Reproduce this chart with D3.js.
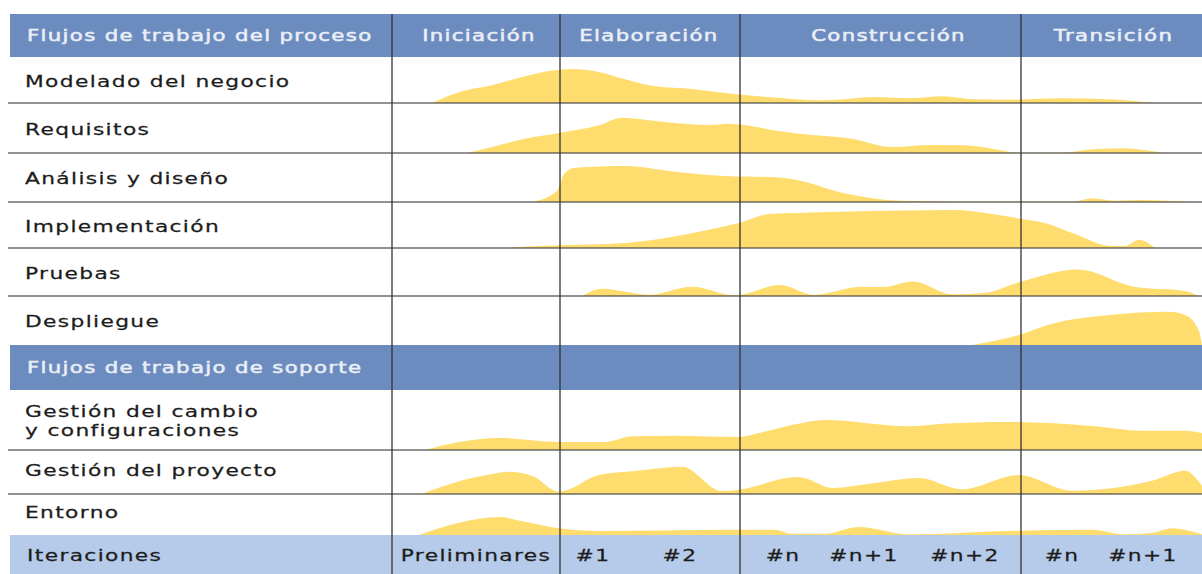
<!DOCTYPE html>
<html>
<head>
<meta charset="utf-8">
<script src="https://cdn.jsdelivr.net/npm/d3@7"></script>
<style>
  body { margin: 0; background: #fff; }
  text { font-family: "DejaVu Sans", Verdana, sans-serif; font-size: 16px; letter-spacing: 1px; }
</style>
</head>
<body>
<svg id="chart"></svg>
<script>
// ---- data ----
const phases = ["Iniciación", "Elaboración", "Construcción", "Transición"];
const phaseEdges = [0, 168, 348, 629, 810];          // timeline units
const processFlows = ["Modelado del negocio", "Requisitos", "Análisis y diseño",
                      "Implementación", "Pruebas", "Despliegue"];
const supportFlows = [["Gestión del cambio", "y configuraciones"], ["Gestión del proyecto"], ["Entorno"]];
const iterations = ["Preliminares", "#1", "#2", "#n", "#n+1", "#n+2", "#n", "#n+1"];
const iterationPos = [84, 201, 288, 391, 472, 573, 670, 751];

// effort curves: [timeline, effort]
const modelado = [[40,0],[70,11.7],[100,17.7],[133,26.7],[163,32.7],[180,34],[207,31],[233,23.7],[263,16.7],
  [300,14],[333,10],[367,6.7],[400,4],[433,2.7],[483,6],[517,4.7],[550,6.7],[583,3.7],[617,3.3],[667,4.7],
  [717,3.7],[750,1.3],[767,0]];
const requisitos = [[75,0],[100,6],[133,14.3],[167,20],[207,27.7],[230,35.3],[253,33.3],[283,30],[317,28],
  [337,29.3],[357,27.3],[387,22],[405,19.6],[460,14.3],[500,6],[540,8],[573,7.7],[600,4.3],[627,0.3],
  [673,0.5],[700,3.7],[733,4.7],[750,3.3],[773,0]];
const analisis = [[140,0],[165,11],[172,28],[183,34.3],[233,36],[283,30.3],[333,26],[383,24.7],[405,22],
  [450,9.3],[510,1.3],[567,0.6],[683,0.6],[700,3.7],[723,1.3],[750,2],[800,0]];
const implementacion = [[113,0],[140,1.7],[167,2.7],[233,5],[267,9],[317,18.3],[347,25],[377,34],[405,35],
  [467,36.7],[560,38],[600,34],[630,29],[653,25],[683,14],[717,2.3],[733,2],[747,8.3],[763,0]];
const pruebas = [[190,0],[210,7.3],[257,1.3],[300,9.3],[343,0.7],[388,11],[422,1.2],[468,9],[491,9],
  [521,14.5],[560,1.8],[592,3],[628,14],[686,26.5],[743,9],[793,5],[807,0]];
const despliegue = [[580,0],[627,10],[660,21.3],[717,30],[777,33.3],[793,30],[807,14],[810,0]];
const cambio = [[33,0],[67,8],[107,12],[167,8],[213,8],[240,13.7],[283,14.3],[347,13],[367,17],[405,26],
  [433,30],[517,23.7],[550,26.3],[617,28],[700,24],[750,19.3],[793,19.3],[810,17]];
const proyecto = [[30,0],[43,5],[100,20],[117,22.3],[140,18.3],[167,2.3],[207,19],[240,22.7],[290,27.3],
  [330,3],[347,4.3],[405,17],[413,15.7],[440,6],[483,11],[527,16],[570,4.7],[627,19],[680,3.3],[760,13.3],
  [793,23.3],[810,8.3]];
const entorno = [[27,0],[67,12.3],[107,18],[133,13.3],[167,6.7],[207,4],[333,5.3],[383,5.3],[400,1.3],
  [433,1.3],[467,8],[517,0.7],[617,4],[700,5.3],[733,0.7],[760,2],[780,6.7],[810,0.7]];

const processCurves = [modelado, requisitos, analisis, implementacion, pruebas, despliegue];
const supportCurves = [cambio, proyecto, entorno];

// ---- layout ----
const W = 1202, H = 574;
const leftX = 8, topY = 14;
const headerH = 43, supportH = 45, iterH = 39;
const processH = [46, 50, 49, 46, 48, 49];
const supportRowH = [60, 44, 41];
const SX = 1.36;                       // horizontal stretch of the lettering
const BLUE = "#6c8bbf", LIGHT = "#b6cae9", YELLOW = "#ffdc6e";

const svg = d3.select("#chart").attr("width", W).attr("height", H);

const x = d3.scaleLinear().domain([0, 810]).range([392, W]);
const effort = d3.scaleLinear().domain([0, 50]).range([0, 50]);

function label(g, str, px, py, anchor, sx) {
  return g.append("text")
    .attr("transform", `translate(${px},${py}) scale(${sx || SX},1)`)
    .attr("text-anchor", anchor)
    .attr("dominant-baseline", "central")
    .text(str);
}

// row geometry
let y = topY;
const headerRow = {y0: y, y1: y += headerH};
const procRows = processH.map(h => ({y0: y, y1: y += h}));
const supportRow = {y0: y, y1: y += supportH};
const suppRows = supportRowH.map(h => ({y0: y, y1: y += h}));
const iterRow = {y0: y, y1: y += iterH};

// bands
[headerRow, supportRow].forEach(r => {
  svg.append("rect").attr("x", leftX + 2).attr("y", r.y0).attr("width", W - leftX - 2)
    .attr("height", r.y1 - r.y0).attr("fill", BLUE);
});
svg.append("rect").attr("x", leftX + 2).attr("y", iterRow.y0).attr("width", W - leftX - 2)
  .attr("height", iterRow.y1 - iterRow.y0).attr("fill", LIGHT);

// effort areas
const areas = svg.append("g");
function drawArea(data, row) {
  const a = d3.area()
    .curve(d3.curveMonotoneX)
    .x(d => x(d[0]))
    .y0(row.y1)
    .y1(d => row.y1 - effort(d[1]));
  areas.append("path").datum(data).attr("d", a).attr("fill", YELLOW);
}
processCurves.forEach((c, i) => drawArea(c, procRows[i]));
supportCurves.forEach((c, i) => drawArea(c, suppRows[i]));

// horizontal separators
const hLines = procRows.slice(0, -1).concat(suppRows.slice(0, -1)).map(r => r.y1);
svg.append("g").selectAll("line").data(hLines).join("line")
  .attr("x1", leftX).attr("x2", W)
  .attr("y1", d => d).attr("y2", d => d)
  .attr("stroke", "#4a4a4a").attr("stroke-opacity", 0.6).attr("stroke-width", 1.8);

// vertical phase separators
svg.append("g").selectAll("line").data(phaseEdges.slice(0, -1)).join("line")
  .attr("x1", d => x(d)).attr("x2", d => x(d))
  .attr("y1", topY).attr("y2", H)
  .attr("stroke", "#333").attr("stroke-opacity", 0.65).attr("stroke-width", 2);

// header texts
const head = svg.append("g").attr("fill", "#eef2f9")
  .attr("stroke", "#e4eaf4").attr("stroke-width", 0.55);
const hy = (headerRow.y0 + headerRow.y1) / 2 - 0.5;
label(head, "Flujos de trabajo del proceso", 27, hy, "start", 1.33);
const phaseNudge = [3, -1, 8, 2];
phases.forEach((p, i) => {
  label(head, p, x((phaseEdges[i] + phaseEdges[i + 1]) / 2) + phaseNudge[i], hy, "middle", 1.33);
});
label(head, "Flujos de trabajo de soporte", 27, (supportRow.y0 + supportRow.y1) / 2, "start", 1.33);

// row labels
const rows = svg.append("g").attr("fill", "#1c1c1c").attr("stroke", "#1c1c1c").attr("stroke-width", 0.25);
processFlows.forEach((f, i) => {
  const r = procRows[i];
  label(rows, f, 25, (r.y0 + r.y1) / 2 + 1.5, "start");
});
supportFlows.forEach((lines, i) => {
  const r = suppRows[i];
  const c = lines.length > 1 ? r.y0 + 21.5 : (r.y0 + r.y1) / 2 - 1.5;
  lines.forEach((l, k) => label(rows, l, 25, c + k * 19, "start"));
});

// iterations row
const iy = (iterRow.y0 + iterRow.y1) / 2 + 1.5;
label(rows, "Iteraciones", 27, iy, "start");
iterations.forEach((it, i) => label(rows, it, x(iterationPos[i]), iy, "middle"));
</script>
</body>
</html>
